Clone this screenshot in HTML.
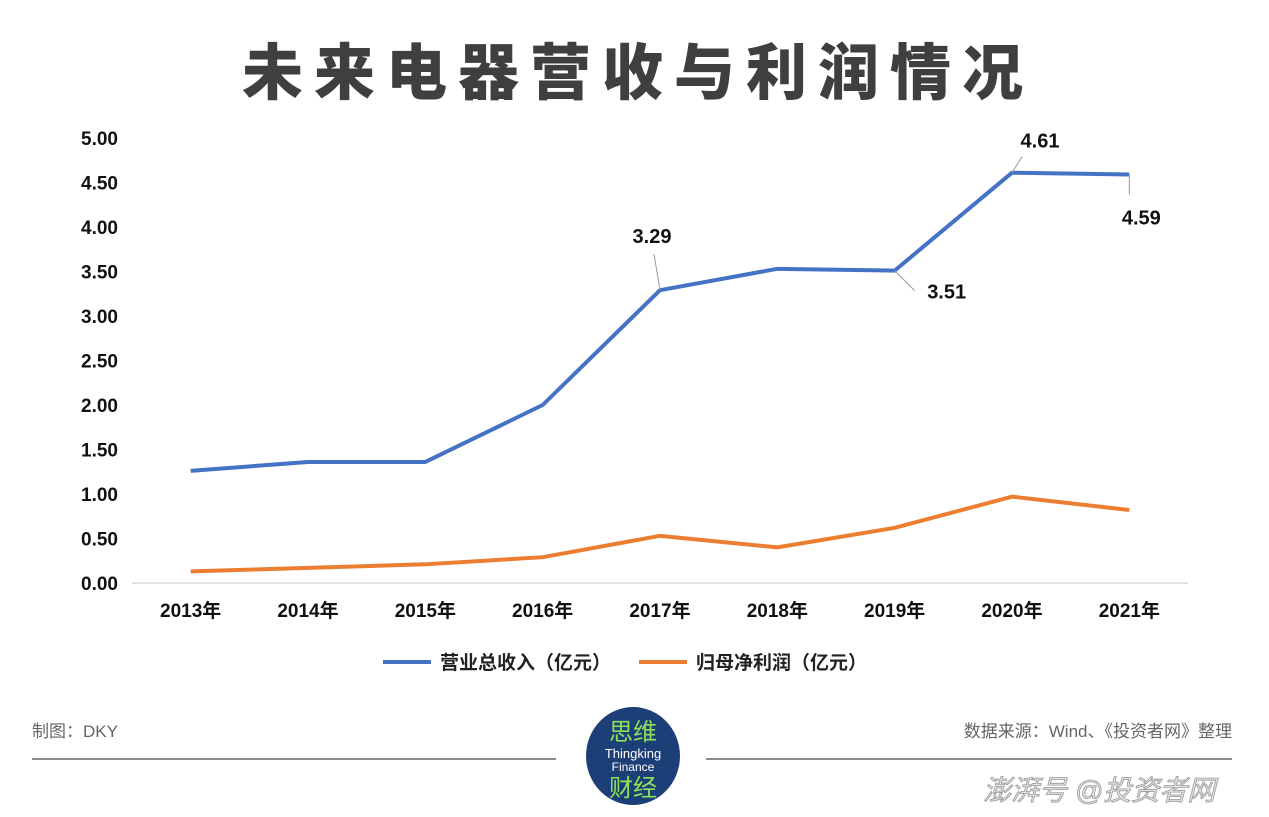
<!DOCTYPE html>
<html><head><meta charset="utf-8"><style>
body{margin:0;width:1269px;height:812px;background:#fff;overflow:hidden;font-family:"Liberation Sans","Noto Sans CJK SC",sans-serif;}
svg text{font-family:"Liberation Sans","Noto Sans CJK SC",sans-serif;}
</style></head><body>
<svg id="chart" width="1269" height="812">
<text x="638" y="94" text-anchor="middle" font-size="61" font-weight="900" fill="#3f3f3f" letter-spacing="11">未来电器营收与利润情况</text>
<g id="yaxis"></g><g id="xaxis"></g><g id="series"></g>
<g>
<line x1="383" y1="662" x2="431" y2="662" stroke="#4472c4" stroke-width="4"/>
<text x="440" y="669" font-size="19" font-weight="bold" fill="#222">营业总收入（亿元）</text>
<line x1="639" y1="662" x2="687" y2="662" stroke="#ed7d31" stroke-width="4"/>
<text x="696" y="669" font-size="19" font-weight="bold" fill="#222">归母净利润（亿元）</text>
</g>
<text x="32" y="737" font-size="17" fill="#666">制图：DKY</text>
<text x="1232" y="737" text-anchor="end" font-size="17" fill="#666">数据来源：Wind、《投资者网》整理</text>
<line x1="32" y1="759" x2="556" y2="759" stroke="#666" stroke-width="1.5"/>
<line x1="706" y1="759" x2="1232" y2="759" stroke="#666" stroke-width="1.5"/>
<g>
<ellipse cx="633" cy="756" rx="47" ry="49" fill="#1d3f78"/>
<text x="633" y="740" text-anchor="middle" font-size="24" fill="#8fe05a">思维</text>
<text x="633" y="758" text-anchor="middle" font-size="13" fill="#fff">Thingking</text>
<text x="633" y="771" text-anchor="middle" font-size="12" fill="#fff">Finance</text>
<text x="633" y="796" text-anchor="middle" font-size="24" fill="#8fe05a">财经</text>
</g>
<text x="983" y="800" font-size="28" font-style="italic" fill="#e4e4e4" stroke="#999" stroke-width="0.8">澎湃号 @投资者网</text>
</svg>
<script>
const categories=["2013年","2014年","2015年","2016年","2017年","2018年","2019年","2020年","2021年"];
const revenue=[1.26,1.36,1.36,2.00,3.29,3.53,3.51,4.61,4.59];
const profit=[0.13,0.17,0.21,0.29,0.53,0.40,0.62,0.97,0.82];
const yTicks=[0,0.5,1,1.5,2,2.5,3,3.5,4,4.5,5];
const NS="http://www.w3.org/2000/svg";
const L=132,R=1188,T=138,B=583;
const y=v=>B-(v/5)*(B-T);
const x=i=>L+(i+0.5)*(R-L)/categories.length;
function mk(tag,attrs,parent,text){const e=document.createElementNS(NS,tag);for(const k in attrs)e.setAttribute(k,attrs[k]);if(text!==undefined)e.textContent=text;parent.appendChild(e);return e;}
const ya=document.getElementById('yaxis'),xa=document.getElementById('xaxis'),sg=document.getElementById('series');
yTicks.forEach(t=>{const e=mk('text',{x:118,y:y(t)+7,'text-anchor':'end','font-size':19,'font-weight':'bold',fill:'#111'},ya,t.toFixed(2));

});
const ax=mk('line',{x1:L,y1:B,x2:R,y2:B,stroke:'#d9d9d9','stroke-width':1.5},xa);


categories.forEach((c,i)=>{const e=mk('text',{x:x(i),y:617,'text-anchor':'middle','font-size':19,'font-weight':'bold',fill:'#111'},xa,c);

});
function line(vals,color,name){const p=mk('polyline',{points:vals.map((v,i)=>x(i)+','+y(v)).join(' '),fill:'none',stroke:color,'stroke-width':4,'stroke-linejoin':'round'},sg);

}
line(revenue,'#4472c4','revenue-line');
line(profit,'#ed7d31','profit-line');
const labels=[[4,-6,-36,-8,-47],[6,20,20,52,28],[7,10,-16,28,-25],[8,0,20,12,50]];
labels.forEach(([i,dx,dy,tx,ty])=>{const px=x(i),py=y(revenue[i]);
const l=mk('line',{x1:px,y1:py,x2:px+dx,y2:py+dy,stroke:'#999','stroke-width':1},sg);


const t=mk('text',{x:px+tx,y:py+ty,'text-anchor':'middle','font-size':20,'font-weight':'bold',fill:'#111'},sg,revenue[i].toFixed(2));

});
</script>
</body></html>
